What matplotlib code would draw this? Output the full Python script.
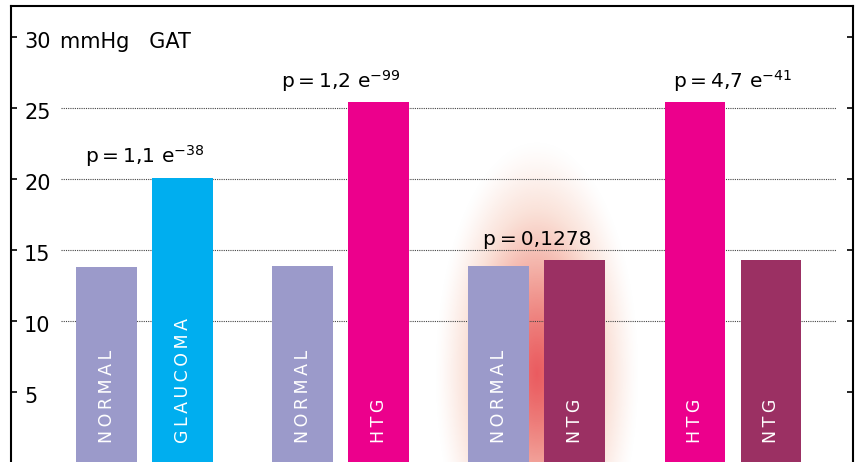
import numpy as np
import matplotlib
matplotlib.use("Agg")
import matplotlib.pyplot as plt
from matplotlib.colors import to_rgb
from matplotlib.transforms import ScaledTranslation

# data
bar_labels = ["NORMAL", "GLAUCOMA", "NORMAL", "HTG", "NORMAL", "NTG", "HTG", "NTG"]
bar_values = [13.8, 20.1, 13.9, 25.4, 13.9, 14.3, 25.4, 14.3]
bar_colors = ["#9b9aca", "#00aeef", "#9b9aca", "#ec008c",
              "#9b9aca", "#9b3063", "#ec008c", "#9b3063"]
p_texts = ["1,1 e$^{-38}$", "1,2 e$^{-99}$", "0,1278", "4,7 e$^{-41}$"]
y_ticks = [5, 10, 15, 20, 25, 30]
grid_levels = [10, 15, 20, 25]
unit_text = "mmHg   GAT"

plt.rcParams["font.family"] = ["DejaVu Sans"]

fig = plt.figure(figsize=(8.58, 4.62), dpi=100)
ax = fig.add_axes([0.0128, -0.002, 0.9814, 0.989])

# bar positions: pairs of bars
group_step = 2.58
x = []
for g in range(4):
    x.append(g * group_step)
    x.append(g * group_step + 1)
x = np.array(x)

ax.set_xlim(-1.257, 9.82)
ax.set_ylim(0, 32.2)

# red glow behind the NORMAL / NTG pair
gx = (x[4] + x[5]) / 2
gy = 6.3
hw, hh = 1.35, 16.5
nx, ny = 200, 300
xx, yy = np.meshgrid(np.linspace(-1, 1, nx), np.linspace(-1, 1, ny))
r = np.sqrt(xx ** 2 + yy ** 2)
core = np.array(to_rgb("#ea5a5f"))
edge = np.array(to_rgb("#f4b8a2"))
t = np.clip(r / 0.7, 0, 1)[..., None]
img = np.zeros((ny, nx, 4))
img[..., :3] = core * (1 - t) + edge * t
img[..., 3] = np.clip(1 - r ** 2.2, 0, 1) ** 1.5
ax.imshow(img, extent=(gx - hw, gx + hw, gy - hh, gy + hh), origin="lower",
          aspect="auto", zorder=0, interpolation="bilinear")

# grid lines
ax.hlines(grid_levels, -0.6, 9.59, colors="#444444", linestyles=(0, (1, 1)),
          linewidth=0.8, zorder=1)

ax.bar(x, bar_values, width=0.8, color=bar_colors, zorder=2)

for xi, lab in zip(x, bar_labels):
    ax.text(xi, 1.4, "\u2009".join(lab), rotation=90, color="white",
            fontsize=12.5, ha="center", va="bottom", zorder=3)

for g, pt in enumerate(p_texts):
    top = max(bar_values[2 * g], bar_values[2 * g + 1])
    ax.text((x[2 * g] + x[2 * g + 1]) / 2, top + 1.05, "p\u2009=\u2009" + pt,
            fontsize=14.5, ha="center", va="baseline", zorder=3)

# axis styling
ax.set_xticks([])
ax.set_yticks(y_ticks)
ax.set_yticklabels([str(v) for v in y_ticks])
ax.tick_params(axis="y", direction="in", length=4.5, width=1.2,
               labelsize=15, pad=-9.5, right=True)
shift = ScaledTranslation(0, -0.11, fig.dpi_scale_trans)
for lab in ax.get_yticklabels():
    lab.set_horizontalalignment("left")
    lab.set_verticalalignment("baseline")
    lab.set_transform(lab.get_transform() + shift)
ax.text(0.058, 30, unit_text, fontsize=15, va="baseline",
        transform=ax.get_yaxis_transform() + shift)

ax.spines["bottom"].set_visible(False)
for s in ["left", "top", "right"]:
    ax.spines[s].set_linewidth(1.5)

fig.savefig("out.png", dpi=100)
